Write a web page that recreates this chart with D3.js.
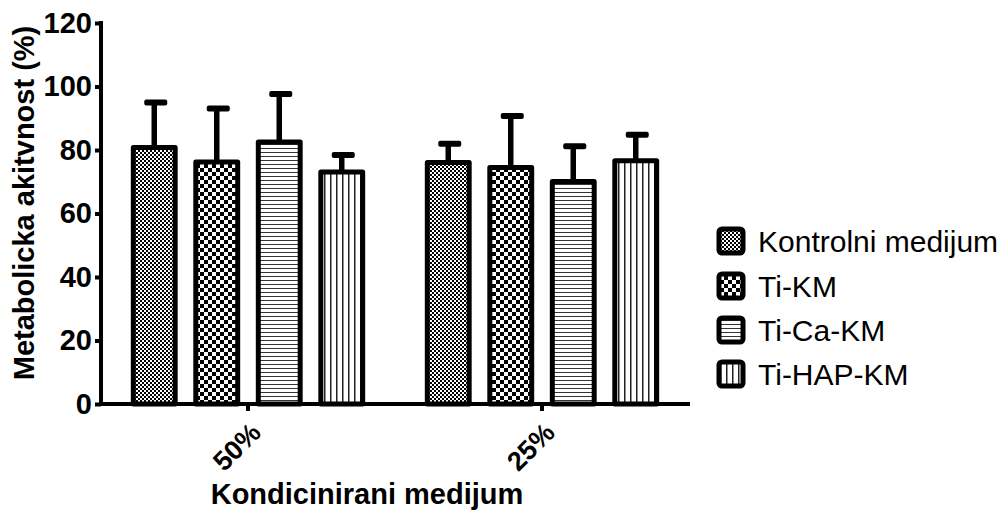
<!DOCTYPE html>
<html><head><meta charset="utf-8">
<script src="https://cdn.jsdelivr.net/npm/d3@7"></script>
<style>body{margin:0;background:#fff}svg{display:block}</style>
</head><body>
<svg id="c" width="1003" height="510"></svg>
<script>
const categories = ["50%", "25%"];
const series = ["Kontrolni medijum", "Ti-KM", "Ti-Ca-KM", "Ti-HAP-KM"];
const means50 = [80.8, 76.2, 82.5, 73.1];
const errs50 = [14.2, 16.9, 15.1, 5.3];
const means25 = [76.1, 74.5, 70.1, 76.6];
const errs25 = [5.9, 16.2, 11.1, 8.2];
const yTicks = [0, 20, 40, 60, 80, 100, 120];

const data = categories.map((c, i) => ({
  cat: c,
  vals: series.map((s, j) => ({s, j, m: [means50, means25][i][j], e: [errs50, errs25][i][j]}))
}));

const svg = d3.select("#c");
const defs = svg.append("defs");
const font = "'Liberation Sans', Arial, sans-serif";

function pat(id, w, h, draw) {
  const p = defs.append("pattern").attr("id", id).attr("patternUnits", "userSpaceOnUse")
    .attr("width", w).attr("height", h);
  p.append("rect").attr("width", w).attr("height", h).attr("fill", "#fff");
  draw(p);
}
pat("p0", 4, 4, p => { p.append("rect").attr("width", 2).attr("height", 2).attr("fill", "#000");
  p.append("rect").attr("x", 2).attr("y", 2).attr("width", 2).attr("height", 2).attr("fill", "#000"); });
pat("p1", 8, 8, p => { p.append("rect").attr("width", 4).attr("height", 4).attr("fill", "#000");
  p.append("rect").attr("x", 4).attr("y", 4).attr("width", 4).attr("height", 4).attr("fill", "#000"); });
pat("p2", 4, 4, p => { p.append("rect").attr("width", 4).attr("height", 1).attr("fill", "#333"); });
pat("p3", 6, 6, p => { p.append("rect").attr("width", 1.5).attr("height", 6).attr("fill", "#222"); });

const y = d3.scaleLinear().domain([0, 120]).range([404, 23]);
const x = d3.scaleBand().domain(categories).range([101, 689]);
const xi = d3.scaleBand().domain(series).range([-125, 125]).paddingInner(0.25).paddingOuter(0.125);
const bw = xi.bandwidth();
const SW = 5;

const g = svg.append("g");
data.forEach(d => {
  const cx0 = x(d.cat) + x.bandwidth() / 2;
  d.vals.forEach(v => {
    const cx = cx0 + xi(v.s) + bw / 2;
    g.append("line").attr("x1", cx).attr("x2", cx).attr("y1", y(v.m)).attr("y2", y(v.m + v.e))
      .attr("stroke", "#000").attr("stroke-width", 5.5);
    g.append("rect").attr("x", cx - 10).attr("width", 23).attr("y", y(v.m + v.e) - 3).attr("height", 6)
      .attr("rx", 2).attr("fill", "#000");
    g.append("rect").attr("x", cx - bw / 2 + SW / 2).attr("width", bw - SW)
      .attr("y", y(v.m)).attr("height", y(0) - y(v.m))
      .attr("fill", `url(#p${v.j})`).attr("stroke", "#000").attr("stroke-width", SW)
      .attr("stroke-linejoin", "round");
  });
});

const ya = svg.append("g").attr("transform", "translate(101,0)")
  .call(d3.axisLeft(y).tickValues(yTicks).tickSize(6).tickPadding(3));
const xa = svg.append("g").attr("transform", "translate(0,404)")
  .call(d3.axisBottom(x).tickSize(7).tickFormat(""));
[ya, xa].forEach(a => {
  a.select(".domain").remove();
  a.selectAll(".tick line").attr("stroke-width", 4);
});
svg.append("line").attr("x1", 101).attr("x2", 101).attr("y1", 21).attr("y2", 406).attr("stroke", "#000").attr("stroke-width", 4);
svg.append("line").attr("x1", 99).attr("x2", 690).attr("y1", 404).attr("y2", 404).attr("stroke", "#000").attr("stroke-width", 4);
ya.selectAll(".tick text").attr("font-family", font).attr("font-weight", "bold").attr("font-size", 29).attr("fill", "#000");

categories.forEach(c => {
  const cx = x(c) + x.bandwidth() / 2;
  svg.append("text").attr("transform", `translate(${cx + 8},${428}) rotate(-45)`)
    .attr("text-anchor", "end").attr("dominant-baseline", "central")
    .attr("font-family", font).attr("font-weight", "bold").attr("font-size", 27).text(c);
});

svg.append("text").attr("transform", "translate(34,203) rotate(-90)").attr("text-anchor", "middle")
  .attr("font-family", font).attr("font-weight", "bold").attr("font-size", 29).text("Metabolicka akitvnost (%)");
svg.append("text").attr("x", 367).attr("y", 504).attr("text-anchor", "middle")
  .attr("font-family", font).attr("font-weight", "bold").attr("font-size", 29).text("Kondicinirani medijum");

const leg = svg.append("g");
const rowY = [241, 286, 330, 374];
series.forEach((s, j) => {
  leg.append("rect").attr("x", 719).attr("y", rowY[j] - 12).attr("width", 24).attr("height", 24)
    .attr("rx", 3).attr("fill", `url(#p${j})`).attr("stroke", "#000").attr("stroke-width", 5);
  leg.append("text").attr("x", 758).attr("y", rowY[j]).attr("dominant-baseline", "central")
    .attr("font-family", font).attr("font-size", 30).text(s);
});
</script>
</body></html>
